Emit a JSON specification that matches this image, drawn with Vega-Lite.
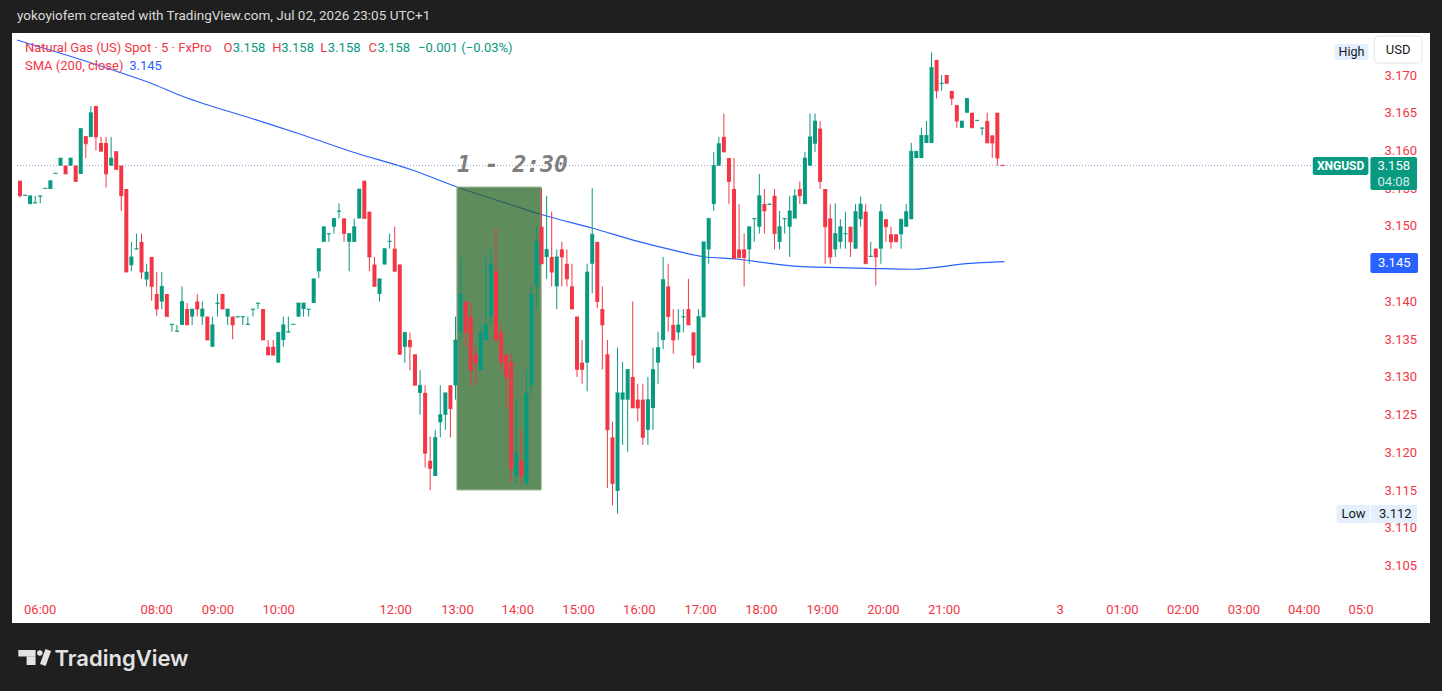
{
  "$schema": "https://vega.github.io/schema/vega-lite/v6.json",
  "width": 1418,
  "height": 590,
  "autosize": "none",
  "padding": {"left": 12, "top": 33, "right": 12, "bottom": 68},
  "background": "#1f1f1f",
  "config": {"view": {"fill": "#ffffff", "stroke": null}, "font": "Roboto"},
  "datasets": {
    "bars": [
      {"i":0,"o":3.156,"h":3.156,"l":3.1538,"c":3.154},
      {"i":1,"o":3.154,"h":3.1541,"l":3.154,"c":3.1541},
      {"i":2,"o":3.1529,"h":3.154,"l":3.1529,"c":3.154},
      {"i":3,"o":3.153,"h":3.154,"l":3.153,"c":3.1531},
      {"i":4,"o":3.1539,"h":3.154,"l":3.153,"c":3.154},
      {"i":5,"o":3.1549,"h":3.155,"l":3.1549,"c":3.155},
      {"i":6,"o":3.1549,"h":3.156,"l":3.1549,"c":3.156},
      {"i":7,"o":3.1569,"h":3.157,"l":3.1569,"c":3.157},
      {"i":8,"o":3.158,"h":3.159,"l":3.158,"c":3.159},
      {"i":9,"o":3.158,"h":3.158,"l":3.1569,"c":3.1569},
      {"i":10,"o":3.158,"h":3.159,"l":3.158,"c":3.159},
      {"i":11,"o":3.158,"h":3.158,"l":3.1559,"c":3.1559},
      {"i":12,"o":3.1569,"h":3.1629,"l":3.1569,"c":3.1629},
      {"i":13,"o":3.1619,"h":3.1619,"l":3.159,"c":3.1609},
      {"i":14,"o":3.1618,"h":3.1659,"l":3.1618,"c":3.165},
      {"i":15,"o":3.1659,"h":3.1659,"l":3.16,"c":3.1618},
      {"i":16,"o":3.161,"h":3.1618,"l":3.1599,"c":3.1599},
      {"i":17,"o":3.161,"h":3.1618,"l":3.1551,"c":3.1569},
      {"i":18,"o":3.158,"h":3.1618,"l":3.158,"c":3.159},
      {"i":19,"o":3.1599,"h":3.1599,"l":3.1575,"c":3.1575},
      {"i":20,"o":3.158,"h":3.158,"l":3.152,"c":3.154},
      {"i":21,"o":3.1549,"h":3.1549,"l":3.1439,"c":3.1439},
      {"i":22,"o":3.1448,"h":3.1479,"l":3.144,"c":3.1459},
      {"i":23,"o":3.1469,"h":3.149,"l":3.1469,"c":3.147},
      {"i":24,"o":3.1479,"h":3.149,"l":3.143,"c":3.1439},
      {"i":25,"o":3.1429,"h":3.145,"l":3.142,"c":3.1439},
      {"i":26,"o":3.1459,"h":3.1459,"l":3.1401,"c":3.142},
      {"i":27,"o":3.141,"h":3.1439,"l":3.1381,"c":3.139},
      {"i":28,"o":3.14,"h":3.1439,"l":3.139,"c":3.142},
      {"i":29,"o":3.141,"h":3.141,"l":3.138,"c":3.138},
      {"i":30,"o":3.1369,"h":3.137,"l":3.136,"c":3.137},
      {"i":31,"o":3.136,"h":3.1369,"l":3.136,"c":3.1361},
      {"i":32,"o":3.1369,"h":3.142,"l":3.1369,"c":3.14},
      {"i":33,"o":3.139,"h":3.1398,"l":3.1369,"c":3.1369},
      {"i":34,"o":3.138,"h":3.139,"l":3.1369,"c":3.139},
      {"i":35,"o":3.14,"h":3.141,"l":3.138,"c":3.139},
      {"i":36,"o":3.138,"h":3.14,"l":3.1369,"c":3.139},
      {"i":37,"o":3.138,"h":3.138,"l":3.1349,"c":3.1349},
      {"i":38,"o":3.134,"h":3.138,"l":3.134,"c":3.1369},
      {"i":39,"o":3.1397,"h":3.141,"l":3.138,"c":3.1398},
      {"i":40,"o":3.141,"h":3.141,"l":3.139,"c":3.139},
      {"i":41,"o":3.138,"h":3.139,"l":3.1369,"c":3.139},
      {"i":42,"o":3.138,"h":3.138,"l":3.135,"c":3.1369},
      {"i":43,"o":3.1379,"h":3.138,"l":3.1379,"c":3.138},
      {"i":44,"o":3.1379,"h":3.138,"l":3.1369,"c":3.138},
      {"i":45,"o":3.1369,"h":3.138,"l":3.1369,"c":3.137},
      {"i":46,"o":3.1389,"h":3.139,"l":3.138,"c":3.139},
      {"i":47,"o":3.1397,"h":3.1398,"l":3.139,"c":3.1398},
      {"i":48,"o":3.139,"h":3.139,"l":3.1349,"c":3.1349},
      {"i":49,"o":3.134,"h":3.1349,"l":3.1329,"c":3.1329},
      {"i":50,"o":3.134,"h":3.1349,"l":3.1329,"c":3.1329},
      {"i":51,"o":3.1319,"h":3.1359,"l":3.1319,"c":3.1359},
      {"i":52,"o":3.1349,"h":3.138,"l":3.134,"c":3.1369},
      {"i":53,"o":3.1359,"h":3.138,"l":3.1359,"c":3.136},
      {"i":54,"o":3.1369,"h":3.137,"l":3.1369,"c":3.137},
      {"i":55,"o":3.138,"h":3.1398,"l":3.138,"c":3.1398},
      {"i":56,"o":3.139,"h":3.1398,"l":3.138,"c":3.1398},
      {"i":57,"o":3.1389,"h":3.139,"l":3.138,"c":3.139},
      {"i":58,"o":3.1398,"h":3.143,"l":3.1398,"c":3.143},
      {"i":59,"o":3.144,"h":3.147,"l":3.1431,"c":3.147},
      {"i":60,"o":3.1479,"h":3.1499,"l":3.1479,"c":3.1499},
      {"i":61,"o":3.1489,"h":3.149,"l":3.1479,"c":3.149},
      {"i":62,"o":3.1499,"h":3.151,"l":3.149,"c":3.151},
      {"i":63,"o":3.1519,"h":3.153,"l":3.151,"c":3.152},
      {"i":64,"o":3.151,"h":3.151,"l":3.1479,"c":3.149},
      {"i":65,"o":3.1479,"h":3.149,"l":3.144,"c":3.149},
      {"i":66,"o":3.1479,"h":3.151,"l":3.1479,"c":3.1499},
      {"i":67,"o":3.151,"h":3.1549,"l":3.151,"c":3.1549},
      {"i":68,"o":3.156,"h":3.156,"l":3.151,"c":3.151},
      {"i":69,"o":3.1519,"h":3.1519,"l":3.144,"c":3.1459},
      {"i":70,"o":3.1449,"h":3.1459,"l":3.142,"c":3.142},
      {"i":71,"o":3.141,"h":3.143,"l":3.14,"c":3.143},
      {"i":72,"o":3.1449,"h":3.147,"l":3.1449,"c":3.147},
      {"i":73,"o":3.1479,"h":3.149,"l":3.147,"c":3.148},
      {"i":74,"o":3.147,"h":3.1499,"l":3.144,"c":3.144},
      {"i":75,"o":3.1449,"h":3.1449,"l":3.133,"c":3.133},
      {"i":76,"o":3.134,"h":3.1359,"l":3.1319,"c":3.1359},
      {"i":77,"o":3.1349,"h":3.1359,"l":3.1309,"c":3.134},
      {"i":78,"o":3.133,"h":3.133,"l":3.1289,"c":3.1289},
      {"i":79,"o":3.1279,"h":3.1309,"l":3.125,"c":3.1289},
      {"i":80,"o":3.1279,"h":3.1289,"l":3.118,"c":3.1199},
      {"i":81,"o":3.1189,"h":3.1221,"l":3.115,"c":3.1179},
      {"i":82,"o":3.1169,"h":3.123,"l":3.1169,"c":3.122},
      {"i":83,"o":3.124,"h":3.1289,"l":3.122,"c":3.125},
      {"i":84,"o":3.125,"h":3.1279,"l":3.123,"c":3.1279},
      {"i":85,"o":3.1289,"h":3.1289,"l":3.122,"c":3.1258},
      {"i":86,"o":3.1289,"h":3.138,"l":3.127,"c":3.1349},
      {"i":87,"o":3.1359,"h":3.1459,"l":3.1349,"c":3.141},
      {"i":88,"o":3.14,"h":3.14,"l":3.134,"c":3.1359},
      {"i":89,"o":3.138,"h":3.14,"l":3.1289,"c":3.1309},
      {"i":90,"o":3.133,"h":3.134,"l":3.1289,"c":3.1319},
      {"i":91,"o":3.1309,"h":3.1369,"l":3.1309,"c":3.1359},
      {"i":92,"o":3.1349,"h":3.1459,"l":3.1349,"c":3.1369},
      {"i":93,"o":3.138,"h":3.147,"l":3.1369,"c":3.1449},
      {"i":94,"o":3.144,"h":3.1499,"l":3.1349,"c":3.1349},
      {"i":95,"o":3.1359,"h":3.1369,"l":3.1309,"c":3.1319},
      {"i":96,"o":3.133,"h":3.133,"l":3.126,"c":3.13},
      {"i":97,"o":3.132,"h":3.1331,"l":3.1161,"c":3.1179},
      {"i":98,"o":3.1169,"h":3.127,"l":3.1159,"c":3.1199},
      {"i":99,"o":3.1189,"h":3.123,"l":3.1159,"c":3.1169},
      {"i":100,"o":3.1159,"h":3.1309,"l":3.1159,"c":3.1278},
      {"i":101,"o":3.1289,"h":3.142,"l":3.1279,"c":3.1409},
      {"i":102,"o":3.142,"h":3.1499,"l":3.139,"c":3.1479},
      {"i":103,"o":3.1499,"h":3.155,"l":3.145,"c":3.145},
      {"i":104,"o":3.1459,"h":3.154,"l":3.143,"c":3.1469},
      {"i":105,"o":3.1459,"h":3.1519,"l":3.142,"c":3.1439},
      {"i":106,"o":3.142,"h":3.1469,"l":3.139,"c":3.1459},
      {"i":107,"o":3.1469,"h":3.1479,"l":3.142,"c":3.1459},
      {"i":108,"o":3.145,"h":3.1469,"l":3.142,"c":3.143},
      {"i":109,"o":3.142,"h":3.145,"l":3.139,"c":3.139},
      {"i":110,"o":3.138,"h":3.138,"l":3.13,"c":3.131},
      {"i":111,"o":3.1319,"h":3.1349,"l":3.1291,"c":3.131},
      {"i":112,"o":3.1319,"h":3.145,"l":3.1281,"c":3.1439},
      {"i":113,"o":3.145,"h":3.155,"l":3.1411,"c":3.1489},
      {"i":114,"o":3.1479,"h":3.1479,"l":3.1391,"c":3.14},
      {"i":115,"o":3.139,"h":3.142,"l":3.131,"c":3.1369},
      {"i":116,"o":3.133,"h":3.1349,"l":3.1153,"c":3.123},
      {"i":117,"o":3.122,"h":3.1241,"l":3.113,"c":3.1159},
      {"i":118,"o":3.1149,"h":3.1339,"l":3.1119,"c":3.1279},
      {"i":119,"o":3.127,"h":3.132,"l":3.121,"c":3.1279},
      {"i":120,"o":3.127,"h":3.131,"l":3.1201,"c":3.131},
      {"i":121,"o":3.13,"h":3.14,"l":3.1259,"c":3.1259},
      {"i":122,"o":3.127,"h":3.1291,"l":3.1241,"c":3.1259},
      {"i":123,"o":3.127,"h":3.1291,"l":3.121,"c":3.122},
      {"i":124,"o":3.123,"h":3.13,"l":3.121,"c":3.127},
      {"i":125,"o":3.1259,"h":3.1339,"l":3.123,"c":3.131},
      {"i":126,"o":3.1319,"h":3.136,"l":3.1291,"c":3.1339},
      {"i":127,"o":3.1349,"h":3.1459,"l":3.1337,"c":3.1429},
      {"i":128,"o":3.142,"h":3.145,"l":3.136,"c":3.138},
      {"i":129,"o":3.1369,"h":3.139,"l":3.1331,"c":3.1349},
      {"i":130,"o":3.1359,"h":3.139,"l":3.1349,"c":3.1369},
      {"i":131,"o":3.1379,"h":3.139,"l":3.1359,"c":3.138},
      {"i":132,"o":3.139,"h":3.143,"l":3.1369,"c":3.1369},
      {"i":133,"o":3.1359,"h":3.1359,"l":3.1311,"c":3.1329},
      {"i":134,"o":3.1319,"h":3.139,"l":3.1319,"c":3.138},
      {"i":135,"o":3.1379,"h":3.1479,"l":3.1379,"c":3.1479},
      {"i":136,"o":3.1469,"h":3.151,"l":3.145,"c":3.151},
      {"i":137,"o":3.1529,"h":3.1598,"l":3.152,"c":3.158},
      {"i":138,"o":3.158,"h":3.1618,"l":3.158,"c":3.1609},
      {"i":139,"o":3.1618,"h":3.1649,"l":3.1598,"c":3.1598},
      {"i":140,"o":3.159,"h":3.159,"l":3.1529,"c":3.1559},
      {"i":141,"o":3.1549,"h":3.159,"l":3.1457,"c":3.1457},
      {"i":142,"o":3.1469,"h":3.1529,"l":3.1458,"c":3.1458},
      {"i":143,"o":3.1469,"h":3.149,"l":3.142,"c":3.1458},
      {"i":144,"o":3.1469,"h":3.1499,"l":3.145,"c":3.1499},
      {"i":145,"o":3.1509,"h":3.151,"l":3.1479,"c":3.151},
      {"i":146,"o":3.1499,"h":3.1569,"l":3.149,"c":3.154},
      {"i":147,"o":3.1529,"h":3.1549,"l":3.149,"c":3.152},
      {"i":148,"o":3.1528,"h":3.153,"l":3.1528,"c":3.1529},
      {"i":149,"o":3.154,"h":3.1549,"l":3.1469,"c":3.149},
      {"i":150,"o":3.1479,"h":3.152,"l":3.1469,"c":3.1499},
      {"i":151,"o":3.1509,"h":3.151,"l":3.149,"c":3.151},
      {"i":152,"o":3.1499,"h":3.154,"l":3.1459,"c":3.152},
      {"i":153,"o":3.151,"h":3.1549,"l":3.151,"c":3.154},
      {"i":154,"o":3.1549,"h":3.1559,"l":3.1529,"c":3.154},
      {"i":155,"o":3.1529,"h":3.1598,"l":3.1529,"c":3.159},
      {"i":156,"o":3.158,"h":3.1649,"l":3.158,"c":3.1618},
      {"i":157,"o":3.1609,"h":3.1649,"l":3.1598,"c":3.1639},
      {"i":158,"o":3.1629,"h":3.1639,"l":3.1549,"c":3.1559},
      {"i":159,"o":3.1549,"h":3.1549,"l":3.145,"c":3.1499},
      {"i":160,"o":3.151,"h":3.1529,"l":3.145,"c":3.1459},
      {"i":161,"o":3.1469,"h":3.153,"l":3.1459,"c":3.149},
      {"i":162,"o":3.1479,"h":3.1509,"l":3.147,"c":3.1499},
      {"i":163,"o":3.1489,"h":3.1519,"l":3.147,"c":3.149},
      {"i":164,"o":3.1499,"h":3.1499,"l":3.1459,"c":3.1479},
      {"i":165,"o":3.147,"h":3.1529,"l":3.147,"c":3.1519},
      {"i":166,"o":3.1509,"h":3.1539,"l":3.1499,"c":3.1529},
      {"i":167,"o":3.1519,"h":3.1529,"l":3.145,"c":3.145},
      {"i":168,"o":3.1459,"h":3.1479,"l":3.1459,"c":3.146},
      {"i":169,"o":3.147,"h":3.147,"l":3.1421,"c":3.1459},
      {"i":170,"o":3.147,"h":3.1529,"l":3.145,"c":3.1519},
      {"i":171,"o":3.1509,"h":3.1509,"l":3.1479,"c":3.1499},
      {"i":172,"o":3.1489,"h":3.1499,"l":3.147,"c":3.1479},
      {"i":173,"o":3.1489,"h":3.1489,"l":3.1479,"c":3.1479},
      {"i":174,"o":3.1489,"h":3.1509,"l":3.147,"c":3.1509},
      {"i":175,"o":3.1499,"h":3.1529,"l":3.1499,"c":3.1519},
      {"i":176,"o":3.1509,"h":3.161,"l":3.1509,"c":3.1599},
      {"i":177,"o":3.159,"h":3.1599,"l":3.159,"c":3.1599},
      {"i":178,"o":3.159,"h":3.163,"l":3.159,"c":3.162},
      {"i":179,"o":3.161,"h":3.1639,"l":3.161,"c":3.162},
      {"i":180,"o":3.161,"h":3.173,"l":3.161,"c":3.171},
      {"i":181,"o":3.172,"h":3.172,"l":3.1669,"c":3.1679},
      {"i":182,"o":3.1688,"h":3.17,"l":3.1679,"c":3.1689},
      {"i":183,"o":3.17,"h":3.17,"l":3.1689,"c":3.1689},
      {"i":184,"o":3.1679,"h":3.1679,"l":3.166,"c":3.1669},
      {"i":185,"o":3.166,"h":3.166,"l":3.163,"c":3.1639},
      {"i":186,"o":3.163,"h":3.1639,"l":3.163,"c":3.1639},
      {"i":187,"o":3.165,"h":3.1669,"l":3.165,"c":3.1669},
      {"i":188,"o":3.165,"h":3.165,"l":3.163,"c":3.163},
      {"i":189,"o":3.1639,"h":3.164,"l":3.1639,"c":3.164},
      {"i":190,"o":3.1629,"h":3.163,"l":3.162,"c":3.163},
      {"i":191,"o":3.1639,"h":3.165,"l":3.161,"c":3.161},
      {"i":192,"o":3.162,"h":3.162,"l":3.159,"c":3.161},
      {"i":193,"o":3.165,"h":3.165,"l":3.158,"c":3.159},
      {"i":194,"o":3.1581,"h":3.1581,"l":3.158,"c":3.158}
    ],
    "sma": [
      {"i":-0.59,"v":3.17464},{"i":8.82,"v":3.172715},{"i":18.63,"v":3.170596},
      {"i":25.49,"v":3.169007},{"i":32.35,"v":3.167126},{"i":46.08,"v":3.164172},
      {"i":55.88,"v":3.162053},{"i":65.69,"v":3.159801},{"i":77.45,"v":3.157417},
      {"i":86.3,"v":3.15517},{"i":97.1,"v":3.15278},{"i":103.3,"v":3.15146},
      {"i":113.1,"v":3.1497},{"i":122.2,"v":3.14792},{"i":129.4,"v":3.14673},
      {"i":135,"v":3.14593},{"i":141.5,"v":3.14563},{"i":148,"v":3.14506},
      {"i":154.6,"v":3.14461},{"i":161.8,"v":3.14448},{"i":167.3,"v":3.1444},
      {"i":175.8,"v":3.14427},{"i":180.4,"v":3.14448},{"i":186.9,"v":3.14501},
      {"i":194.4,"v":3.14527}
    ]
  },
  "layer": [
    {
      "data": {"name": "sma"},
      "mark": {"type": "line", "color": "#2962ff", "strokeWidth": 1.2, "interpolate": "monotone"},
      "encoding": {
        "x": {
          "field": "i", "type": "quantitative",
          "scale": {"domain": [-0.588, 277.45], "nice": false, "zero": false},
          "axis": {
            "orient": "bottom", "offset": -28, "grid": false, "domain": false, "ticks": false, "tickSize": 0,
            "values": [3.9, 26.9, 39, 51, 74.1, 86.3, 98.2, 110.2, 122.2, 134.3, 146.3, 158.4, 170.4, 182.4, 205.3, 217.6, 229.6, 241.6, 253.5, 264.7],
            "labelExpr": "['06:00','08:00','09:00','10:00','12:00','13:00','14:00','15:00','16:00','17:00','18:00','19:00','20:00','21:00','3','01:00','02:00','03:00','04:00','05:0'][indexof([3.9, 26.9, 39, 51, 74.1, 86.3, 98.2, 110.2, 122.2, 134.3, 146.3, 158.4, 170.4, 182.4, 205.3, 217.6, 229.6, 241.6, 253.5, 264.7], datum.value)]",
            "labelColor": "#f23645", "labelFontSize": 13, "labelPadding": 14, "labelBaseline": "middle",
            "labelFlush": false, "labelOverlap": false,
            "title": "TradingView", "titleX": 42, "titleY": 63, "titleAlign": "left", "titleBaseline": "middle",
            "titleColor": "#e3e3e3", "titleFontSize": 22, "titleFontWeight": 600, "titleFont": "Inter"
          }
        },
        "y": {
          "field": "v", "type": "quantitative",
          "scale": {"domain": [3.097417, 3.175563], "nice": false, "zero": false},
          "axis": {
            "orient": "right", "offset": -54, "grid": false, "domain": false, "ticks": false, "tickSize": 0,
            "values": [3.105, 3.11, 3.115, 3.12, 3.125, 3.13, 3.135, 3.14, 3.15, 3.155, 3.16, 3.165, 3.17],
            "format": ".3f", "labelColor": "#f23645", "labelFontSize": 13, "labelPadding": 8,
            "labelFlush": false, "labelOverlap": false, "title": null
          }
        }
      }
    },
    {
      "data": {"values": [{}]},
      "layer": [
        {
          "mark": {"type": "rule", "color": "#8ea3d8", "strokeDash": [1, 2], "strokeWidth": 1},
          "encoding": {
            "x": {"datum": -0.588, "type": "quantitative"},
            "x2": {"datum": 266.67},
            "y": {"datum": 3.158, "type": "quantitative"}
          }
        },
        {
          "mark": {"type": "rect", "fill": "#286626", "fillOpacity": 0.75, "stroke": "#a7b99a", "strokeWidth": 1},
          "encoding": {
            "x": {"datum": 86.27, "type": "quantitative"},
            "x2": {"datum": 102.94},
            "y": {"datum": 3.155166, "type": "quantitative"},
            "y2": {"datum": 3.115033}
          }
        }
      ]
    },
    {
      "data": {"name": "bars"},
      "encoding": {
        "x": {"field": "i", "type": "quantitative"},
        "color": {"condition": {"test": "datum.c >= datum.o", "value": "#089981"}, "value": "#f23645"}
      },
      "layer": [
        {
          "mark": {"type": "rule", "strokeWidth": 1},
          "encoding": {"y": {"field": "l", "type": "quantitative"}, "y2": {"field": "h"}}
        },
        {
          "mark": {"type": "bar", "size": 4},
          "encoding": {"y": {"field": "o", "type": "quantitative"}, "y2": {"field": "c"}}
        },
        {
          "mark": {"type": "tick", "orient": "horizontal", "size": 4, "thickness": 1},
          "encoding": {"y": {"field": "c", "type": "quantitative"}}
        }
      ]
    },
    {
      "data": {"values": [{}]},
      "layer": [
        {
          "mark": {"type": "text", "text": "yokoyiofem created with TradingView.com, Jul 02, 2026 23:05 UTC+1", "fontSize": 13.5, "color": "#dadada", "align": "left", "baseline": "middle"},
          "encoding": {"x": {"datum": -0.588, "type": "quantitative"}, "y": {"datum": 3.177815, "type": "quantitative"}}
        },
        {
          "mark": {"type": "rect", "fill": "#e3e3e3"},
          "encoding": {"x": {"datum": -0.33, "type": "quantitative"}, "x2": {"datum": 3.08}, "y": {"datum": 3.093841, "type": "quantitative"}, "y2": {"datum": 3.092980}}
        },
        {
          "mark": {"type": "rect", "fill": "#e3e3e3"},
          "encoding": {"x": {"datum": 1.31, "type": "quantitative"}, "x2": {"datum": 3.08}, "y": {"datum": 3.09300, "type": "quantitative"}, "y2": {"datum": 3.091854}}
        },
        {
          "mark": {"type": "point", "filled": true, "size": 30, "opacity": 1, "color": "#e3e3e3"},
          "encoding": {"x": {"datum": 3.92, "type": "quantitative"}, "y": {"datum": 3.093444, "type": "quantitative"}}
        },
        {
          "mark": {"type": "rule", "color": "#e3e3e3", "strokeWidth": 6, "strokeCap": "butt"},
          "encoding": {"x": {"datum": 5.59, "type": "quantitative"}, "x2": {"datum": 4.51}, "y": {"datum": 3.093841, "type": "quantitative"}, "y2": {"datum": 3.091854}}
        },
        {
          "mark": {"type": "text", "text": "1 - 2:30", "font": "DejaVu Sans Mono", "fontWeight": "bold", "fontStyle": "italic", "fontSize": 23, "color": "#7f7f7f", "align": "center", "baseline": "middle"},
          "encoding": {"x": {"datum": 97.25, "type": "quantitative"}, "y": {"datum": 3.158079, "type": "quantitative"}}
        },
        {
          "mark": {"type": "text", "text": "Natural Gas (US) Spot · 5 · FxPro", "fontSize": 13, "color": "#f23645", "align": "left", "baseline": "middle"},
          "encoding": {"x": {"datum": 0.98, "type": "quantitative"}, "y": {"datum": 3.173642, "type": "quantitative"}}
        },
        {
          "mark": {"type": "text", "text": "O", "fontSize": 13, "color": "#f23645", "align": "left", "baseline": "middle"},
          "encoding": {"x": {"datum": 40.2, "type": "quantitative"}, "y": {"datum": 3.173642, "type": "quantitative"}}
        },
        {
          "mark": {"type": "text", "text": "3.158", "fontSize": 13, "color": "#089981", "align": "left", "baseline": "middle"},
          "encoding": {"x": {"datum": 42.0, "type": "quantitative"}, "y": {"datum": 3.173642, "type": "quantitative"}}
        },
        {
          "mark": {"type": "text", "text": "H", "fontSize": 13, "color": "#f23645", "align": "left", "baseline": "middle"},
          "encoding": {"x": {"datum": 49.8, "type": "quantitative"}, "y": {"datum": 3.173642, "type": "quantitative"}}
        },
        {
          "mark": {"type": "text", "text": "3.158", "fontSize": 13, "color": "#089981", "align": "left", "baseline": "middle"},
          "encoding": {"x": {"datum": 51.6, "type": "quantitative"}, "y": {"datum": 3.173642, "type": "quantitative"}}
        },
        {
          "mark": {"type": "text", "text": "L", "fontSize": 13, "color": "#f23645", "align": "left", "baseline": "middle"},
          "encoding": {"x": {"datum": 59.3, "type": "quantitative"}, "y": {"datum": 3.173642, "type": "quantitative"}}
        },
        {
          "mark": {"type": "text", "text": "3.158", "fontSize": 13, "color": "#089981", "align": "left", "baseline": "middle"},
          "encoding": {"x": {"datum": 60.8, "type": "quantitative"}, "y": {"datum": 3.173642, "type": "quantitative"}}
        },
        {
          "mark": {"type": "text", "text": "C", "fontSize": 13, "color": "#f23645", "align": "left", "baseline": "middle"},
          "encoding": {"x": {"datum": 68.8, "type": "quantitative"}, "y": {"datum": 3.173642, "type": "quantitative"}}
        },
        {
          "mark": {"type": "text", "text": "3.158", "fontSize": 13, "color": "#089981", "align": "left", "baseline": "middle"},
          "encoding": {"x": {"datum": 70.6, "type": "quantitative"}, "y": {"datum": 3.173642, "type": "quantitative"}}
        },
        {
          "mark": {"type": "text", "text": "−0.001 (−0.03%)", "fontSize": 13, "color": "#089981", "align": "left", "baseline": "middle"},
          "encoding": {"x": {"datum": 78.6, "type": "quantitative"}, "y": {"datum": 3.173642, "type": "quantitative"}}
        },
        {
          "mark": {"type": "text", "text": "SMA (200, close)", "fontSize": 13, "color": "#f23645", "align": "left", "baseline": "middle"},
          "encoding": {"x": {"datum": 0.98, "type": "quantitative"}, "y": {"datum": 3.171126, "type": "quantitative"}}
        },
        {
          "mark": {"type": "text", "text": "3.145", "fontSize": 13, "color": "#2962ff", "align": "left", "baseline": "middle"},
          "encoding": {"x": {"datum": 21.57, "type": "quantitative"}, "y": {"datum": 3.171126, "type": "quantitative"}}
        },
        {
          "mark": {"type": "rect", "fill": "#ffffff", "stroke": "#e0e3eb", "cornerRadius": 4},
          "encoding": {"x": {"datum": 267.45, "type": "quantitative"}, "x2": {"datum": 276.86}, "y": {"datum": 3.175166, "type": "quantitative"}, "y2": {"datum": 3.171589}}
        },
        {
          "mark": {"type": "text", "text": "USD", "fontSize": 13, "color": "#131722", "align": "center", "baseline": "middle"},
          "encoding": {"x": {"datum": 272.16, "type": "quantitative"}, "y": {"datum": 3.173377, "type": "quantitative"}}
        },
        {
          "mark": {"type": "rect", "fill": "#e3effd", "cornerRadius": 2},
          "encoding": {"x": {"datum": 259.61, "type": "quantitative"}, "x2": {"datum": 266.27}, "y": {"datum": 3.174106, "type": "quantitative"}, "y2": {"datum": 3.171987}}
        },
        {
          "mark": {"type": "text", "text": "High", "fontSize": 12.5, "color": "#131722", "align": "center", "baseline": "middle"},
          "encoding": {"x": {"datum": 262.94, "type": "quantitative"}, "y": {"datum": 3.173046, "type": "quantitative"}}
        },
        {
          "mark": {"type": "rect", "fill": "#089981", "cornerRadius": 2},
          "encoding": {"x": {"datum": 255.29, "type": "quantitative"}, "x2": {"datum": 266.27}, "y": {"datum": 3.159139, "type": "quantitative"}, "y2": {"datum": 3.156755}}
        },
        {
          "mark": {"type": "text", "text": "XNGUSD", "fontSize": 12, "fontWeight": "bold", "color": "#ffffff", "align": "center", "baseline": "middle"},
          "encoding": {"x": {"datum": 260.78, "type": "quantitative"}, "y": {"datum": 3.157947, "type": "quantitative"}}
        },
        {
          "mark": {"type": "rect", "fill": "#089981", "cornerRadius": 2},
          "encoding": {"x": {"datum": 266.67, "type": "quantitative"}, "x2": {"datum": 275.88}, "y": {"datum": 3.159139, "type": "quantitative"}, "y2": {"datum": 3.154768}}
        },
        {
          "mark": {"type": "text", "text": "3.158", "fontSize": 13, "color": "#ffffff", "align": "center", "baseline": "middle"},
          "encoding": {"x": {"datum": 271.27, "type": "quantitative"}, "y": {"datum": 3.157947, "type": "quantitative"}}
        },
        {
          "mark": {"type": "text", "text": "04:08", "fontSize": 13, "color": "#ffffff", "opacity": 0.8, "align": "center", "baseline": "middle"},
          "encoding": {"x": {"datum": 271.27, "type": "quantitative"}, "y": {"datum": 3.155828, "type": "quantitative"}}
        },
        {
          "mark": {"type": "rect", "fill": "#2962ff", "cornerRadius": 2},
          "encoding": {"x": {"datum": 266.67, "type": "quantitative"}, "x2": {"datum": 276.08}, "y": {"datum": 3.146424, "type": "quantitative"}, "y2": {"datum": 3.143775}}
        },
        {
          "mark": {"type": "text", "text": "3.145", "fontSize": 13, "color": "#ffffff", "align": "center", "baseline": "middle"},
          "encoding": {"x": {"datum": 271.37, "type": "quantitative"}, "y": {"datum": 3.145099, "type": "quantitative"}}
        },
        {
          "mark": {"type": "rect", "fill": "#e3effd", "cornerRadius": 2},
          "encoding": {"x": {"datum": 260.0, "type": "quantitative"}, "x2": {"datum": 275.88}, "y": {"datum": 3.113046, "type": "quantitative"}, "y2": {"datum": 3.110662}}
        },
        {
          "mark": {"type": "rule", "color": "#ffffff", "strokeWidth": 1},
          "encoding": {"x": {"datum": 266.67, "type": "quantitative"}, "y": {"datum": 3.113046, "type": "quantitative"}, "y2": {"datum": 3.110662}}
        },
        {
          "mark": {"type": "text", "text": "Low", "fontSize": 13, "color": "#131722", "align": "center", "baseline": "middle"},
          "encoding": {"x": {"datum": 263.33, "type": "quantitative"}, "y": {"datum": 3.111854, "type": "quantitative"}}
        },
        {
          "mark": {"type": "text", "text": "3.112", "fontSize": 13, "color": "#131722", "align": "center", "baseline": "middle"},
          "encoding": {"x": {"datum": 271.57, "type": "quantitative"}, "y": {"datum": 3.111854, "type": "quantitative"}}
        }
      ]
    }
  ]
}
